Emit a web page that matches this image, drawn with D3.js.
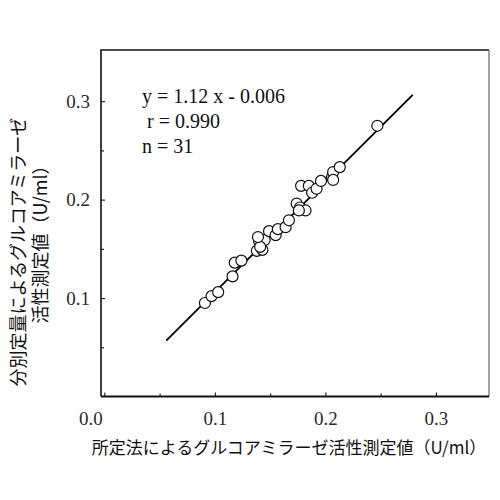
<!DOCTYPE html>
<html><head><meta charset="utf-8">
<script src="https://cdn.jsdelivr.net/npm/d3@7"></script>
<style>body{margin:0;background:#fff}</style>
</head><body>
<svg id="chart" width="500" height="500"></svg>
<script>
// measured by the reference method (x) vs. fractional quantification (y), U/ml
const refValues = [0.091,0.097,0.103,0.116,0.118,0.124,0.138,0.143,0.140,0.145,0.149,0.155,0.157,0.164,0.167,0.174,0.177,0.182,0.178,0.185,0.188,0.192,0.196,0.206,0.207,0.213,0.247,0.176,0.141,0.139,0.207];
const fracValues = [0.095,0.102,0.106,0.122,0.136,0.138,0.148,0.149,0.158,0.159,0.168,0.164,0.170,0.172,0.179,0.196,0.192,0.189,0.214,0.214,0.207,0.211,0.219,0.223,0.228,0.233,0.275,0.189,0.152,0.162,0.220];
const slope = 1.12, intercept = -0.006;
const fitRange = [0.056, 0.279];
const xMajorTicks = [0, 0.1, 0.2, 0.3];
const yMajorTicks = [0.1, 0.2, 0.3];
const minorTicks = [0.05, 0.15, 0.25];
const statLines = ["y = 1.12 x - 0.006", " r = 0.990", "n = 31"];
const xTitle = "所定法によるグルコアミラーゼ活性測定値（U/ml）";
const yTitleLines = ["分別定量によるグルコアミラーゼ", "活性測定値（U/ml）"];

const svg = d3.select("#chart");
const L = 101, R = 489, T = 50, B = 396.5;
const x = d3.scaleLinear().domain([-0.003, 0.348]).range([L, R]);
const y = d3.scaleLinear().domain([0, 0.352]).range([B, T]);
const serif = "'Liberation Serif','Times New Roman',serif";
const cjk = "'Noto Sans CJK JP','Noto Sans',sans-serif";

// frame
svg.append("path").attr("d", `M${L},${B}V${T}H${R}`).attr("fill","none").attr("stroke","#111").attr("stroke-width",1.6);
svg.append("line").attr("x1",R).attr("x2",R).attr("y1",T).attr("y2",B).attr("stroke","#666").attr("stroke-width",1.2);
svg.append("line").attr("x1",L).attr("x2",R).attr("y1",B).attr("y2",B).attr("stroke","#111").attr("stroke-width",1.8);

// axes
const gx = svg.append("g").attr("transform",`translate(0,${B})`)
  .call(d3.axisBottom(x).tickValues(xMajorTicks).tickFormat(d3.format(".1f")).tickSizeInner(-4).tickSizeOuter(0).tickPadding(15));
const gxm = svg.append("g").attr("transform",`translate(0,${B})`)
  .call(d3.axisBottom(x).tickValues(minorTicks).tickFormat("").tickSizeInner(-3).tickSizeOuter(0));
const gy = svg.append("g").attr("transform",`translate(${L},0)`)
  .call(d3.axisLeft(y).tickValues(yMajorTicks).tickFormat(d3.format(".1f")).tickSizeInner(-4).tickSizeOuter(0).tickPadding(11));
const gym = svg.append("g").attr("transform",`translate(${L},0)`)
  .call(d3.axisLeft(y).tickValues(minorTicks).tickFormat("").tickSizeInner(-3).tickSizeOuter(0));
[gx,gxm,gy,gym].forEach(g => {
  g.select(".domain").remove();
  g.selectAll("line").attr("stroke","#222").attr("stroke-width",1.2);
  g.selectAll("text").attr("font-family",serif).attr("font-size",19).attr("fill","#2a2a2a");
});
gx.selectAll(".tick").filter(d => d === 0).select("text").attr("dx",-14);

// fit line
svg.append("line")
  .attr("x1", x(fitRange[0])).attr("y1", y(slope*fitRange[0]+intercept))
  .attr("x2", x(fitRange[1])).attr("y2", y(slope*fitRange[1]+intercept))
  .attr("stroke","#000").attr("stroke-width",1.8);

// points
svg.append("g").selectAll("circle").data(refValues.map((v,i)=>[v,fracValues[i]])).join("circle")
  .attr("cx", d=>x(d[0])).attr("cy", d=>y(d[1])).attr("r",5.5)
  .attr("fill","#fff").attr("stroke","#111").attr("stroke-width",1.2);

// stats
svg.append("g").selectAll("text").data(statLines).join("text")
  .attr("x",142).attr("y",(d,i)=>103+i*25)
  .attr("font-family",serif).attr("font-size",20).attr("fill","#111")
  .attr("xml:space","preserve").style("white-space","pre").text(d=>d);

// titles
svg.append("text").attr("x",289).attr("y",454).attr("text-anchor","middle")
  .attr("font-family",cjk).attr("font-size",17).attr("fill","#111").text(xTitle);
const yTitleCenters = [252, 240];
svg.append("g").selectAll("text").data(yTitleLines).join("text")
  .attr("transform",(d,i)=>`translate(${25+i*22},${yTitleCenters[i]}) rotate(-90)`)
  .attr("text-anchor","middle")
  .attr("font-family",cjk).attr("font-size",18).attr("fill","#111").text(d=>d);
</script>
</body></html>
